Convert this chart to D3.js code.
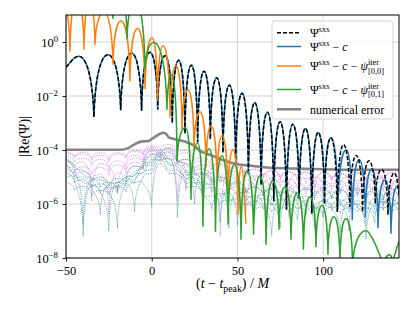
<!DOCTYPE html>
<html>
<head>
<meta charset="utf-8">
<style>
body { margin: 0; background: #fff; }
svg text { font-family: "Liberation Serif", "DejaVu Serif", serif; white-space: pre; }
</style>
</head>
<body>
<svg id="chart" width="415" height="311"></svg>
<script src="https://cdn.jsdelivr.net/npm/d3@7"></script>
<script>
// values are [t - t_peak, log10 |Re(Psi)|]
const xTicks = [-50, 0, 50, 100];
const yTickExps = [0, -2, -4, -6, -8];

// shared by Psi^sxs and Psi^sxs - c until the constant offset matters
const psiEarly = [[-50, -0.93], [-42.5, -0.53], [-33.7, -2.78], [-25.5, -0.47], [-18.1, -2.53], [-11.7, -0.41],
  [-5.9, -2.55], [-1.0, -0.38], [3.5, -2.5], [7.75, -0.51], [12.0, -3.0], [15.7, -0.68], [19.4, -3.4],
  [23.1, -0.86], [26.8, -3.7], [30.5, -1.08], [34.2, -3.6], [37.9, -1.32], [41.6, -4.1], [45.3, -1.6],
  [49.0, -4.5], [52.7, -1.9], [56.4, -4.9], [60.1, -2.25], [63.8, -5.3], [67.5, -2.6], [71.2, -5.9],
  [74.9, -2.95], [78.6, -6.2], [82.3, -3.05], [86.0, -5.8], [89.7, -3.2], [93.4, -6.35], [97.1, -3.35],
  [100.8, -6.0], [104.5, -3.55]];
const sxsLate = [[108.2, -6.3], [111.9, -3.8], [115.6, -6.1], [119.3, -4.2], [123.0, -6.3], [126.7, -4.4],
  [130.4, -6.0], [134.1, -4.72], [137.8, -6.4], [141.5, -4.85], [145.2, -6.0]];
const minusCLate = [[108.6, -6.2], [113.5, -4.0], [117.0, -6.6], [121.0, -4.35], [124.6, -6.5], [128.3, -4.7],
  [132.0, -6.9], [136.0, -5.1], [139.6, -7.1], [143.2, -5.35], [147.0, -7.0]];

const minusIter00 = [[-50, 1.4], [-47.7, -0.36], [-43.8, 1.6], [-39.5, -0.29], [-36.3, 1.5], [-33.1, -0.10],
  [-27.8, 1.1], [-22.6, -0.84], [-17.9, 0.78], [-12.7, -1.47], [-8.3, 0.50], [-3.9, -1.75], [0.2, 0.16],
  [3.4, -2.14], [6.6, -0.14], [10.7, -2.8], [14.2, -0.88], [17.7, -3.25], [21.2, -1.77], [24.7, -3.99],
  [28.2, -2.58], [31.7, -4.66], [34.6, -3.1], [38.1, -5.28], [41.0, -3.47], [44.5, -5.84], [47.4, -3.99],
  [50.3, -6.4], [52.4, -4.6], [55.0, -6.73]];

const minusIter01 = [[-27, 1.9], [-22.6, 0.85], [-18.5, 1.9], [-14.4, 0.10], [-9.5, 1.5], [-3.9, -1.03],
  [1.3, -0.02], [8.9, -2.51], [11.8, -1.21], [14.75, -4.43], [19.75, -3.17], [22.9, -5.84], [26.7, -3.73],
  [29.9, -6.84], [33.4, -3.95], [37.2, -7.03], [41.0, -4.21], [44.5, -6.77], [48.3, -4.54], [52.1, -7.32],
  [55.6, -4.77], [59.4, -7.14], [63.2, -4.95], [66.7, -7.51], [70.5, -5.14], [74.25, -6.95], [77.75, -5.36],
  [81.25, -7.32], [85.0, -5.58], [88.5, -7.69], [92.3, -5.73], [95.8, -7.6], [99.3, -6.06], [102.8, -7.88],
  [106.3, -6.47], [109.8, -8.1], [113.3, -6.55], [117.2, -8.3], [125.0, -6.99], [128.5, -7.25], [130.8, -7.55],
  [133.2, -7.92], [135.5, -8.37], [138.7, -7.88], [140.75, -8.37], [142.5, -7.73], [144.25, -7.4], [146.0, -7.1]];

const numericalError = [[-50, -3.99], [-30, -3.99], [-18.5, -3.99], [-13.8, -3.93], [-10.3, -3.80], [-6.25, -3.69],
  [-2.2, -3.67], [0.2, -3.58], [2.5, -3.49], [4.8, -3.40], [6.6, -3.36], [8.3, -3.40], [10.1, -3.54],
  [12.4, -3.58], [14.75, -3.62], [17.7, -3.66], [21.2, -3.73], [24.7, -3.84], [28.2, -4.03], [32.3, -4.14],
  [36.9, -4.25], [42.75, -4.40], [48.6, -4.51], [57.3, -4.58], [69.0, -4.66], [86.5, -4.69], [115.7, -4.73],
  [144.25, -4.73]];

// individual iteration residuals, sampled every 5 M from -50
const iterT = d3.range(-50, 146, 5);
const iterPink = [
  [-4.05,-4.25,-4.08,-4.30,-4.10,-4.35,-4.10,-4.25,-4.00,-4.15, -3.85,-3.95,-3.80,-4.10,-4.00,-4.35,-4.30,-4.60,-4.50,-4.80,
   -4.60,-4.95,-4.70,-5.00,-4.75,-5.05,-4.80,-5.10,-4.80,-5.60, -4.80,-5.10,-4.85,-5.15,-4.85,-5.10,-4.83,-5.20,-4.82,-5.10],
  [-4.20,-4.45,-4.30,-4.55,-4.35,-4.60,-5.60,-4.45,-4.20,-4.40, -3.95,-4.15,-3.95,-4.40,-4.50,-4.70,-4.55,-4.90,-7.20,-4.75,
   -4.95,-4.80,-5.15,-4.90,-5.20,-4.92,-5.30,-4.90,-5.25,-5.00, -5.35,-4.97,-5.30,-4.98,-5.40,-5.05,-5.35,-5.02,-5.45,-4.98],
  [-4.35,-4.60,-4.45,-5.90,-4.50,-4.75,-4.40,-4.70,-4.30,-4.50, -4.05,-4.30,-4.05,-4.55,-4.35,-4.80,-6.10,-4.70,-5.05,-4.85,
   -5.20,-6.30,-4.95,-5.30,-5.05,-5.35,-5.08,-5.45,-5.05,-5.40, -5.12,-5.50,-5.15,-5.90,-5.12,-5.45,-5.10,-5.55,-5.15,-5.40],
  [-4.55,-4.85,-4.62,-4.90,-4.65,-4.95,-4.55,-4.85,-4.45,-4.65, -4.15,-4.35,-4.20,-4.70,-5.50,-4.60,-4.95,-4.85,-5.20,-5.00,
   -5.35,-5.10,-5.40,-5.15,-5.50,-5.15,-5.55,-5.22,-5.50,-5.25, -5.60,-5.23,-5.55,-5.20,-5.65,-5.25,-5.50,-6.20,-5.25,-5.55],
  [-4.70,-5.00,-4.80,-5.10,-4.90,-6.40,-4.85,-5.05,-4.60,-4.75, -4.25,-4.45,-4.30,-5.90,-4.50,-4.95,-4.90,-5.60,-5.00,-5.40,
   -5.15,-5.50,-5.25,-5.60,-5.28,-5.65,-6.50,-5.30,-5.65,-5.35, -5.70,-5.33,-5.65,-5.30,-5.75,-5.35,-5.65,-5.33,-5.70,-5.30],
  [-4.10,-4.30,-4.15,-4.40,-4.20,-4.45,-4.15,-4.30,-4.05,-4.20, -3.90,-4.05,-3.90,-4.25,-4.10,-4.50,-4.40,-4.70,-4.55,-4.85,
   -4.65,-5.00,-4.72,-5.05,-4.78,-5.10,-4.82,-5.15,-4.85,-5.20, -4.85,-5.15,-4.88,-5.25,-4.85,-5.20,-4.88,-5.30,-4.85,-5.15]
];
const iterTeal = [
  [-4.25,-4.70,-4.75,-5.20,-5.00,-5.35,-5.05,-5.20,-4.60,-4.70, -4.00,-4.20,-3.95,-4.45,-4.35,-4.80,-4.70,-5.15,-5.00,-5.40,
   -5.20,-5.60,-5.35,-5.70,-5.40,-5.75,-5.40,-5.80,-5.40,-5.85, -5.40,-5.80,-5.45,-5.85,-5.42,-5.90,-5.40,-5.85,-5.45,-5.80],
  [-4.40,-4.70,-6.80,-5.10,-5.40,-5.20,-5.45,-5.00,-4.95,-4.50, -4.45,-4.00,-4.35,-4.35,-4.75,-6.00,-4.85,-5.30,-5.15,-5.55,
   -5.35,-5.75,-6.60,-5.50,-5.85,-5.55,-5.90,-5.55,-6.40,-5.55, -5.95,-5.55,-5.90,-7.00,-5.60,-5.95,-5.55,-5.90,-6.30,-5.58],
  [-4.60,-5.05,-5.00,-5.40,-5.25,-5.55,-6.90,-5.20,-5.10,-4.60, -4.55,-4.10,-4.50,-4.50,-4.95,-4.90,-5.35,-5.25,-6.70,-5.40,
   -5.80,-5.55,-5.90,-5.65,-6.00,-6.90,-5.70,-6.05,-5.70,-6.10, -6.50,-5.75,-6.05,-5.80,-6.10,-6.80,-5.80,-6.05,-5.80,-6.10],
  [-4.80,-5.20,-5.10,-5.45,-6.40,-5.30,-5.50,-5.15,-5.25,-4.80, -4.70,-4.20,-4.55,-4.60,-5.05,-5.05,-5.45,-5.40,-5.75,-5.60,
   -6.80,-5.70,-6.00,-5.80,-6.05,-5.85,-6.10,-6.60,-5.88,-6.15, -5.90,-6.15,-7.10,-5.92,-6.15,-5.92,-6.20,-5.92,-6.20,-5.90],
  [-5.00,-5.15,-7.20,-5.30,-5.60,-5.40,-5.60,-5.25,-6.30,-5.00, -4.85,-4.35,-4.75,-4.75,-5.25,-5.20,-5.65,-6.20,-5.60,-5.95,
   -5.80,-6.10,-5.90,-6.20,-6.00,-6.20,-6.00,-6.25,-6.05,-6.25, -6.05,-6.25,-6.05,-6.30,-6.00,-7.30,-6.05,-6.25,-6.05,-6.25],
  [-5.15,-5.50,-5.35,-5.70,-5.50,-5.65,-5.35,-5.55,-5.20,-5.25, -6.10,-4.50,-4.85,-4.90,-5.40,-5.35,-5.75,-5.70,-6.00,-5.85,
   -6.10,-6.00,-6.25,-6.10,-6.30,-6.12,-6.30,-6.12,-6.35,-6.12, -6.35,-6.12,-6.35,-6.15,-6.30,-6.15,-6.35,-6.12,-6.30,-6.15],
  [-4.50,-4.90,-5.20,-5.30,-5.55,-7.00,-5.20,-5.35,-4.90,-4.85, -4.35,-4.40,-4.30,-6.50,-4.80,-5.25,-5.20,-5.55,-5.45,-6.90,
   -5.55,-5.90,-5.70,-6.00,-7.20,-5.80,-6.05,-5.85,-6.05,-6.90, -5.85,-6.10,-5.85,-6.15,-5.88,-6.10,-6.70,-5.90,-6.15,-5.90],
  [-4.35,-4.60,-4.90,-5.05,-5.10,-5.25,-5.20,-5.05,-4.80,-4.60, -4.15,-4.30,-4.10,-4.40,-4.55,-4.85,-4.85,-5.20,-5.10,-5.45,
   -5.25,-5.60,-5.40,-5.70,-5.45,-5.75,-5.50,-5.80,-5.45,-5.75, -5.50,-5.80,-5.50,-5.85,-5.48,-5.80,-5.50,-5.85,-5.45,-5.80]
];

const seriesNames = ["Ψ^{sxs}", "Ψ^{sxs} − *c*", "Ψ^{sxs} − *c* − *ψ*^{iter}_{[0,0]}",
  "Ψ^{sxs} − *c* − *ψ*^{iter}_{[0,1]}", "numerical error"];

// ---------------------------------------------------------------
const svg = d3.select("#chart");
const pLeft = 66, pRight = 399, pTop = 15, pBottom = 258;

const x = d3.scaleLinear().domain([-50, 144.25]).range([pLeft, pRight]);
const y = d3.scaleLog().domain([1e-8, 10]).range([pBottom, pTop]);

// curve for |oscillating| data on a log axis: round tops, sharp zeros
function LobeCurve(context) { this._context = context; }
LobeCurve.prototype = {
  areaStart() {}, areaEnd() {},
  lineStart() { this._pts = []; },
  point(px, py) { this._pts.push([+px, +py]); },
  lineEnd() {
    const p = this._pts, n = p.length, ctx = this._context;
    if (!n) return;
    const kind = p.map((q, i) => {
      if (i === 0 || i === n - 1) return "mid";
      if (q[1] < p[i - 1][1] && q[1] < p[i + 1][1]) return "max";
      if (q[1] > p[i - 1][1] && q[1] > p[i + 1][1]) return "min";
      return "mid";
    });
    const slope = i => {
      const a = p[Math.max(0, i - 1)], b = p[Math.min(n - 1, i + 1)];
      return (b[1] - a[1]) / (b[0] - a[0]);
    };
    const handle = (i, j) => {
      const dx = p[j][0] - p[i][0];
      if (kind[i] === "max") return [p[i][0] + 0.45 * dx, p[i][1]];
      if (kind[i] === "min") return [p[i][0] + 0.08 * dx, p[i][1] + 0.7 * (p[j][1] - p[i][1])];
      return [p[i][0] + dx / 3, p[i][1] + slope(i) * dx / 3];
    };
    ctx.moveTo(p[0][0], p[0][1]);
    for (let i = 0; i < n - 1; i++) {
      const a = handle(i, i + 1), b = handle(i + 1, i);
      ctx.bezierCurveTo(a[0], a[1], b[0], b[1], p[i + 1][0], p[i + 1][1]);
    }
  }
};
const curveLobe = context => new LobeCurve(context);

const line = d3.line().x(d => x(d[0])).y(d => y(Math.pow(10, d[1]))).curve(curveLobe);
const smooth = d3.line().x(d => x(d[0])).y(d => y(Math.pow(10, d[1]))).curve(d3.curveMonotoneX);

// small TeX-like markup: *it*, ^{sup}, _{sub} (stacked under a preceding sup)
function renderMath(textSel, src, size) {
  const tokens = src.match(/(\^\{[^}]*\}|_\{[^}]*\}|\*[^*]+\*|[^\^_*]+)/g);
  let cur = 0, lastSup = null;
  tokens.forEach(tok => {
    let s = tok, off = 0, sz = size, it = false, stack = false;
    if (tok[0] === "^") { s = tok.slice(2, -1); off = -0.42 * size; sz = size * 0.7; }
    else if (tok[0] === "_") { s = tok.slice(2, -1); off = 0.3 * size; sz = size * 0.7; stack = lastSup !== null; }
    else if (tok[0] === "*") { s = tok.slice(1, -1); it = true; }
    const ts = textSel.append("tspan").text(s).attr("font-size", sz).attr("dy", off - cur);
    if (it) ts.attr("font-style", "italic");
    if (stack) ts.attr("dx", -lastSup.getComputedTextLength());
    lastSup = tok[0] === "^" ? ts.node() : null;
    cur = off;
  });
}

svg.append("rect").attr("width", 415).attr("height", 311).attr("fill", "#fff");

// grid
const grid = svg.append("g").attr("stroke", "#d0d0d0").attr("stroke-width", 0.9);
grid.selectAll("line.gx").data(xTicks).enter().append("line")
  .attr("x1", d => x(d)).attr("x2", d => x(d)).attr("y1", pTop).attr("y2", pBottom);
grid.selectAll("line.gy").data(yTickExps).enter().append("line")
  .attr("x1", pLeft).attr("x2", pRight)
  .attr("y1", d => y(Math.pow(10, d))).attr("y2", d => y(Math.pow(10, d)));

svg.append("defs").append("clipPath").attr("id", "plotclip").append("rect")
  .attr("x", pLeft).attr("y", pTop).attr("width", pRight - pLeft).attr("height", pBottom - pTop);

const plot = svg.append("g").attr("clip-path", "url(#plotclip)").attr("fill", "none");

iterPink.forEach(vals => {
  plot.append("path").attr("d", line(iterT.map((t, i) => [t, vals[i]])))
    .attr("stroke", "#d27be2").attr("stroke-opacity", 0.85)
    .attr("stroke-width", 0.9).attr("stroke-dasharray", "1.2,1");
});
iterTeal.forEach(vals => {
  plot.append("path").attr("d", line(iterT.map((t, i) => [t, vals[i]])))
    .attr("stroke", "#4a979c").attr("stroke-opacity", 0.85)
    .attr("stroke-width", 0.9).attr("stroke-dasharray", "1.2,1");
});

plot.append("path").attr("d", smooth(numericalError))
  .attr("stroke", "#858585").attr("stroke-width", 2.6);

plot.append("path").attr("d", line(psiEarly.concat(minusCLate)))
  .attr("stroke", "#1f77b4").attr("stroke-width", 1.5);
plot.append("path").attr("d", line(psiEarly.concat(sxsLate)))
  .attr("stroke", "#000").attr("stroke-width", 1.5).attr("stroke-dasharray", "4,2");
plot.append("path").attr("d", line(minusIter00))
  .attr("stroke", "#ff7f0e").attr("stroke-width", 1.5);
plot.append("path").attr("d", line(minusIter01))
  .attr("stroke", "#2ca02c").attr("stroke-width", 1.5);

// axes
const xAxis = svg.append("g").attr("transform", `translate(0,${pBottom})`)
  .call(d3.axisBottom(x).tickValues(xTicks).tickSize(3.5).tickPadding(4.5)
    .tickFormat(d => d < 0 ? "−" + Math.abs(d) : String(d)));
xAxis.select(".domain").remove();
xAxis.attr("font-family", null);
xAxis.selectAll("text").attr("font-size", 12.5).attr("fill", "#000");
xAxis.selectAll("line").attr("stroke", "#000").attr("stroke-width", 0.9);

const yAxis = svg.append("g").attr("transform", `translate(${pLeft},0)`)
  .call(d3.axisLeft(y).tickValues(yTickExps.map(e => Math.pow(10, e))).tickSize(3.5).tickFormat(() => ""));
yAxis.select(".domain").remove();
yAxis.attr("font-family", null);
yAxis.selectAll("line").attr("stroke", "#000").attr("stroke-width", 0.9);
yAxis.selectAll(".tick").each(function (d) {
  const t = d3.select(this).select("text").text("")
    .attr("x", -8).attr("dy", null).attr("y", 4.3)
    .attr("font-size", 12.5).attr("fill", "#000").attr("text-anchor", "end");
  const e = Math.round(Math.log10(d));
  renderMath(t, "10^{" + (e < 0 ? "−" + (-e) : e) + "}", 12.5);
});

// frame
svg.append("rect").attr("x", pLeft).attr("y", pTop).attr("width", pRight - pLeft).attr("height", pBottom - pTop)
  .attr("fill", "none").attr("stroke", "#000").attr("stroke-width", 1);

// axis labels
const xl = svg.append("text").attr("x", (pLeft + pRight) / 2).attr("y", 288)
  .attr("text-anchor", "middle").attr("font-size", 14);
renderMath(xl, "(*t* − *t*_{peak}) / *M*", 14);

svg.append("text").attr("transform", `translate(29,${(pTop + pBottom) / 2}) rotate(-90)`)
  .attr("text-anchor", "middle").attr("font-size", 14).text("|Re(Ψ)|");

// legend
const legend = svg.append("g");
legend.append("rect").attr("x", 272).attr("y", 21).attr("width", 121).attr("height", 98)
  .attr("rx", 3).attr("fill", "#fff").attr("fill-opacity", 0.8)
  .attr("stroke", "#cccccc").attr("stroke-width", 0.9);
const legendStyles = [
  { color: "#000", width: 1.5, dash: "4,2" },
  { color: "#1f77b4", width: 1.5, dash: null },
  { color: "#ff7f0e", width: 1.5, dash: null },
  { color: "#2ca02c", width: 1.5, dash: null },
  { color: "#858585", width: 2.6, dash: null }
];
const legendRowY = [32.7, 46.5, 66, 89.5, 109.3];
seriesNames.forEach((name, i) => {
  const ry = legendRowY[i], st = legendStyles[i];
  legend.append("line").attr("x1", 277).attr("x2", 301).attr("y1", ry).attr("y2", ry)
    .attr("stroke", st.color).attr("stroke-width", st.width).attr("stroke-dasharray", st.dash);
  const t = legend.append("text").attr("x", 310).attr("y", ry + 4.3).attr("font-size", 12);
  renderMath(t, name, 12);
});
</script>
</body>
</html>
